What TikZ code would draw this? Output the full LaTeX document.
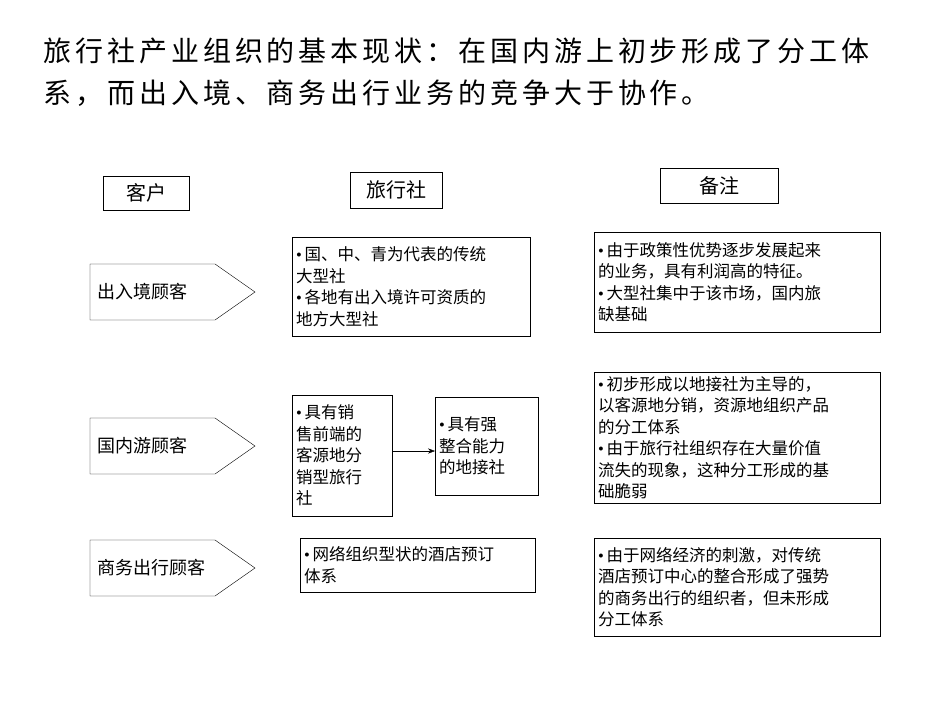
\documentclass[tikz,border=0pt]{standalone}
\usepackage{fontspec}
\setmainfont{Liberation Serif}
\newfontfamily\cjk{Noto Sans CJK SC}
\newfontfamily\cjktitle[LetterSpace=14]{Noto Sans CJK SC}
\newcommand{\bul}{{\rmfamily\textbullet}\,}
\usetikzlibrary{arrows.meta}
\begin{document}
\begin{tikzpicture}[x=1pt,y=-1pt,font=\cjk,
    head box/.style={draw,font=\cjk\fontsize{20}{22}\selectfont,inner sep=0pt},
    client/.style={anchor=west,font=\cjk\fontsize{18}{20}\selectfont,inner sep=0pt},
    text box/.style={draw,anchor=north west,align=left,font=\cjk\fontsize{16.5}{21.5}\selectfont,inner sep=4pt}]
  \useasboundingbox (0,0) rectangle (950,713);

  \node[anchor=north west,align=left,font=\cjktitle\fontsize{28}{42}\selectfont] (title) at (40,34)
    {旅行社产业组织的基本现状：在国内游上初步形成了分工体\\系，而出入境、商务出行业务的竞争大于协作。};

  \node[head box,minimum width=86,minimum height=34] (kehu) at (146,193) {客户};
  \node[head box,minimum width=92,minimum height=36] (lxs) at (396,190) {旅行社};
  \node[head box,minimum width=118,minimum height=35] (bz) at (719,186) {备注};

  % customer arrows
  \foreach \y/\n/\t in {292/c1/出入境顾客, 446/c2/国内游顾客, 568/c3/商务出行顾客}{
    \draw (90,\y-28) -- (215,\y-28) -- (255,\y) -- (215,\y+28) -- (90,\y+28) -- cycle;
    \node[client] (\n) at (97,\y) {\t};
  }

  \node[text box,minimum width=238,minimum height=99,text width=230] (a1) at (292,237)
    {\bul 国、中、青为代表的传统\\大型社\\\bul 各地有出入境许可资质的\\地方大型社};
  \node[text box,minimum width=100,minimum height=121,text width=92] (a2) at (292,395)
    {\bul 具有销\\售前端的\\客源地分\\销型旅行\\社};
  \node[text box,minimum width=103,minimum height=98,text width=95] (a3) at (435,397)
    {\bul 具有强\\整合能力\\的地接社};
  \node[text box,minimum width=235,minimum height=54,text width=227] (a4) at (300,538)
    {\bul 网络组织型状的酒店预订\\体系};

  \node[text box,minimum width=286,minimum height=100,text width=278] (n1) at (594,232)
    {\bul 由于政策性优势逐步发展起来\\的业务，具有利润高的特征。\\\bul 大型社集中于该市场，国内旅\\缺基础};
  \node[text box,minimum width=286,minimum height=125,text width=278] (n2) at (594,372)
    {\bul 初步形成以地接社为主导的，\\以客源地分销，资源地组织产品\\的分工体系\\\bul 由于旅行社组织存在大量价值\\流失的现象，这种分工形成的基\\础脆弱};
  \node[text box,minimum width=286,minimum height=98,text width=278] (n3) at (594,538)
    {\bul 由于网络经济的刺激，对传统\\酒店预订中心的整合形成了强势\\的商务出行的组织者，但未形成\\分工体系};

  \draw[-{Stealth[length=7pt]}] (a2.east |- 0,451) -- (a3.west |- 0,451);
\end{tikzpicture}
\end{document}
